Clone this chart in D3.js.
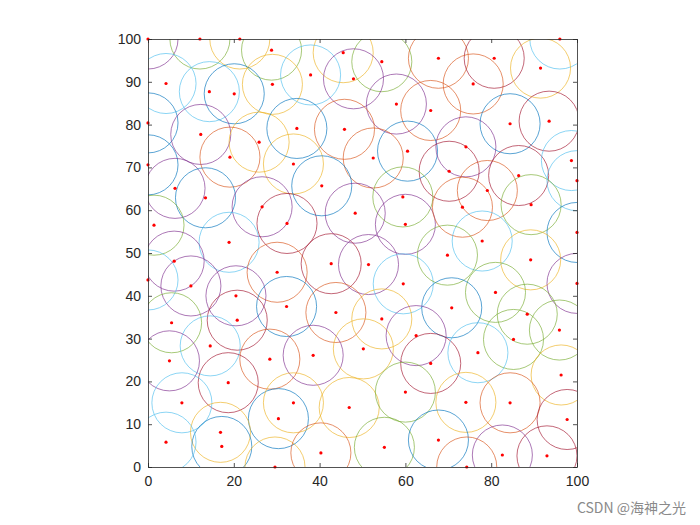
<!DOCTYPE html>
<html>
<head>
<meta charset="utf-8">
<script src="https://cdn.jsdelivr.net/npm/d3@7"></script>
<style>
body { margin: 0; background: #fff; }
svg text { font-family: "Liberation Sans", Arial, sans-serif; }
</style>
</head>
<body>
<div class="chart"></div>
<script>
// point centres
var px = [0, 12.1, 21.4, 28.8, 4.2, 14.3, 20.1, 29.0, 0, 12.3, 25.9, 19.1, 0,
  45.5, 54.5, 37.9, 47.9, 57.9, 65.9, 34.7, 45.8, 60.5, 52.5, 33.9,
  67.7, 80.7, 96.0, 91.5, 75.8, 84.4, 93.5, 74.1, 70.2, 86.4, 98.7,
  6.3, 13.4, 26.6, 32.4, 1.4, 18.9, 6.1, 0, 10.0, 30.1, 20.5, 32.3, 20.8, 5.5,
  40.5, 48.3, 59.4, 60.0, 42.7, 51.4, 59.5, 43.8, 54.5,
  79.1, 73.3, 89.3, 100, 100, 77.9, 69.8, 89.2, 100, 81.0, 70.8, 88.4,
  14.5, 5.0, 28.4, 18.7, 7.9, 30.4, 16.9, 17.2, 4.2, 29.6,
  38.5, 50.2, 62.5, 65.9, 33.9, 46.9, 60.0, 40.3, 55.1,
  85.2, 95.9, 76.9, 96.3, 74.1, 84.4, 97.7, 67.7, 82.6, 93.0, 74.3];
var py = [100, 100, 100, 97.4, 89.6, 87.7, 87.2, 89.4, 80.4, 77.7, 75.9, 72.4, 70.6,
  96.8, 94.7, 91.6, 90.7, 84.8, 83.3, 79.1, 78.9, 73.8, 72.2, 70.8,
  95.5, 95.5, 100, 93.2, 89.5, 80.2, 80.8, 74.8, 69.1, 68.1, 71.6,
  65.1, 62.9, 60.8, 56.9, 56.5, 52.5, 48.1, 43.7, 42.3, 45.5, 40.0, 37.5, 34.3, 33.7,
  65.7, 59.3, 63.1, 56.7, 47.5, 47.3, 42.8, 36.1, 34.6,
  64.6, 60.7, 61.3, 66.9, 54.8, 52.8, 49.5, 48.4, 42.9, 40.8, 37.2, 35.7,
  28.3, 24.8, 25.2, 19.7, 15.0, 11.3, 8.1, 4.8, 5.8, 0,
  26.1, 27.6, 30.7, 24.2, 15.0, 13.9, 17.5, 3.3, 4.6,
  29.8, 32.0, 26.7, 21.5, 15.1, 15.0, 11.1, 6.3, 2.8, 2.6, 0];
// colour of each circle (index into MATLAB colour order)
// 0 blue 1 orange 2 yellow 3 purple 4 green 5 cyan 6 dark red
var pc = [3, 4, 2, 4, 5, 5, 0, 2, 0, 3, 2, 1, 0,
  2, 4, 5, 3, 3, 1, 0, 1, 0, 1, 2,
  1, 6, 5, 2, 1, 0, 6, 3, 6, 6, 5,
  3, 0, 3, 6, 4, 5, 3, 5, 3, 1, 3, 0, 6, 4,
  0, 3, 4, 3, 6, 3, 5, 1, 2,
  1, 1, 4, 5, 0, 5, 4, 2, 3, 4, 0, 4,
  5, 3, 1, 6, 5, 0, 2, 0, 5, 2,
  3, 2, 3, 6, 2, 2, 4, 1, 4,
  4, 4, 5, 2, 2, 1, 6, 0, 3, 6, 1];
var radius = 7;
var colorOrder = ["#0072BD", "#D95319", "#EDB120", "#7E2F8E", "#77AC30", "#4DBEEE", "#A2142F"];
var xTicks = [0, 20, 40, 60, 80, 100];
var yTicks = [0, 10, 20, 30, 40, 50, 60, 70, 80, 90, 100];

function draw() {
  var pts = px.map(function(d, i) { return {x: d, y: py[i], c: pc[i]}; });

  var svg = d3.select(".chart").append("svg").attr("width", 700).attr("height", 525);

  var ml = 148, mt = 39, w = 429, h = 428;
  var x = d3.scaleLinear().domain([0, 100]).range([ml, ml + w]);
  var y = d3.scaleLinear().domain([0, 100]).range([mt + h, mt]);

  svg.append("clipPath").attr("id", "clip").append("rect")
    .attr("x", ml).attr("y", mt).attr("width", w).attr("height", h);

  var g = svg.append("g").attr("clip-path", "url(#clip)");

  g.selectAll("circle.ring").data(pts).enter().append("circle")
    .attr("class", "ring")
    .attr("cx", function(d) { return x(d.x); })
    .attr("cy", function(d) { return y(d.y); })
    .attr("r", x(radius) - x(0))
    .attr("fill", "none")
    .attr("stroke", function(d) { return colorOrder[d.c]; })
    .attr("stroke-width", 0.65);

  svg.selectAll("circle.dot").data(pts).enter().append("circle")
    .attr("class", "dot")
    .attr("cx", function(d) { return x(d.x); })
    .attr("cy", function(d) { return y(d.y); })
    .attr("r", 1.6)
    .attr("fill", "#ff0000");

  // axes, ticks inside like MATLAB
  var axColor = "#262626";
  var gx = svg.append("g").attr("transform", "translate(0," + (mt + h) + ")")
    .call(d3.axisBottom(x).tickValues(xTicks).tickSizeInner(-4).tickSizeOuter(0).tickPadding(9));
  var gxt = svg.append("g").attr("transform", "translate(0," + mt + ")")
    .call(d3.axisTop(x).tickValues(xTicks).tickSizeInner(-4).tickSizeOuter(0).tickFormat(""));
  var gy = svg.append("g").attr("transform", "translate(" + ml + ",0)")
    .call(d3.axisLeft(y).tickValues(yTicks).tickSizeInner(-4).tickSizeOuter(0).tickPadding(7));
  var gyr = svg.append("g").attr("transform", "translate(" + (ml + w) + ",0)")
    .call(d3.axisRight(y).tickValues(yTicks).tickSizeInner(-4).tickSizeOuter(0).tickFormat(""));

  [gx, gxt, gy, gyr].forEach(function(a) {
    a.selectAll("path").attr("stroke", axColor).attr("stroke-width", 0.8);
    a.selectAll("line").attr("stroke", axColor).attr("stroke-width", 0.8);
    a.selectAll("text").attr("fill", axColor).style("font-size", "14px");
  });

  svg.append("text").attr("x", 686).attr("y", 513).attr("text-anchor", "end")
    .attr("fill", "#8a8a8a").style("font-size", "14px")
    .style("font-family", "'Noto Sans CJK SC', 'Liberation Sans', sans-serif")
    .text("CSDN @海神之光");
}
draw();
</script>
</body>
</html>
